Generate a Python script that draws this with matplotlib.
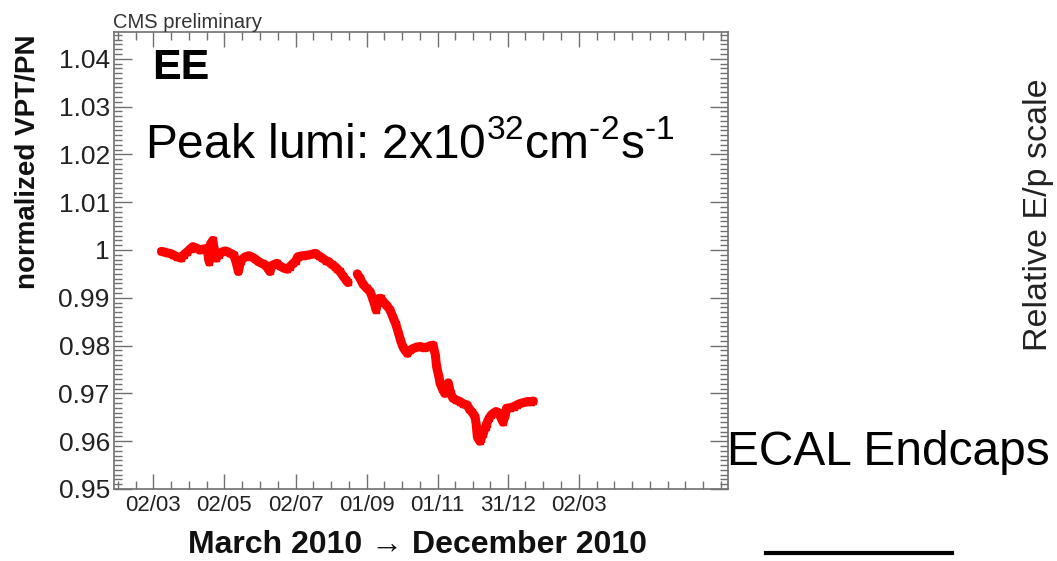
import matplotlib
matplotlib.use('Agg')
import matplotlib.pyplot as plt
from matplotlib.lines import Line2D
import matplotlib.dates as mdates
import numpy as np
import pandas as pd

plt.rcParams['font.family'] = ['Liberation Sans', 'DejaVu Sans']
plt.rcParams['mathtext.fontset'] = 'custom'
plt.rcParams['mathtext.rm'] = 'Liberation Sans'

# days since 02/03/2010 and the normalized VPT/PN ratio
start = pd.Timestamp('2010-03-02')
days = [7, 9, 12, 14, 17, 20, 22, 24, 26, 29, 32, 34, 37, 40, 43, 46, 48, 49, 51, 52,
        54, 56, 59, 62, 64, 66, 69, 71, 73, 75, 79, 82, 84, 87, 90, 93, 96, 98, 100, 102,
        106, 109, 112, 115, 117, 120, 122, 124, 128, 132, 136, 139, 142, 145, 148, 150,
        153, 156, 158, 160, 163, 165, 167,
        175, 177, 180, 183, 186, 188, 190, 191, 193, 195, 198, 200, 203, 206, 208, 210,
        212, 214, 216, 218, 220, 223, 226, 229, 232, 235, 238, 240, 242, 243, 245, 246,
        248, 250, 252, 253, 255, 257, 260, 263, 266, 269, 271, 273, 275, 276, 277, 278,
        280, 281, 283, 285, 286, 288, 290, 292, 294, 296, 298, 300, 302, 303, 306, 309,
        312, 315, 318, 321, 324, 326]
ratio = [0.9997, 0.9996, 0.9994, 0.9993, 0.9990, 0.9986, 0.9985, 0.9983, 0.9990, 0.9996,
         1.0003, 1.0007, 1.0004, 1.0000, 1.0002, 1.0003, 0.9975, 1.0012, 1.0020, 1.0005,
         0.9983, 0.9990, 0.9996, 0.9998, 0.9996, 0.9993, 0.9990, 0.9975, 0.9955, 0.9978,
         0.9986, 0.9988, 0.9986, 0.9982, 0.9976, 0.9972, 0.9969, 0.9962, 0.9955, 0.9968,
         0.9972, 0.9966, 0.9962, 0.9960, 0.9965, 0.9972, 0.9976, 0.9986, 0.9988, 0.9989,
         0.9991, 0.9993, 0.9988, 0.9983, 0.9978, 0.9976, 0.9970, 0.9965, 0.9960, 0.9955,
         0.9945, 0.9938, 0.9932,
         0.9950, 0.9942, 0.9928, 0.9920, 0.9913, 0.9900, 0.9885, 0.9875, 0.9898, 0.9899,
         0.9890, 0.9885, 0.9875, 0.9857, 0.9845, 0.9829, 0.9812, 0.9798, 0.9790, 0.9784,
         0.9790, 0.9794, 0.9797, 0.9798, 0.9796, 0.9797, 0.9800, 0.9801, 0.9780, 0.9756,
         0.9735, 0.9721, 0.9710, 0.9700, 0.9715, 0.9722, 0.9700, 0.9690, 0.9686, 0.9683,
         0.9678, 0.9676, 0.9668, 0.9662, 0.9655, 0.9651, 0.9635, 0.9609, 0.9600, 0.9605,
         0.9616, 0.9630, 0.9637, 0.9648, 0.9655, 0.9659, 0.9662, 0.9660, 0.9650, 0.9640,
         0.9655, 0.9669, 0.9670, 0.9672, 0.9676, 0.9679, 0.9681, 0.9683, 0.9683, 0.9684]

tick_dates = ['2010-03-02', '2010-05-02', '2010-07-02', '2010-09-01',
              '2010-11-01', '2010-12-31', '2011-03-02']
tick_labels = ['02/03', '02/05', '02/07', '01/09', '01/11', '31/12', '02/03']

W, H = 1057, 561
fig = plt.figure(figsize=(W / 100, H / 100), dpi=100)
ax = fig.add_axes([114 / W, 1 - 489 / H, (728 - 114) / W, (489 - 32) / H])

x = mdates.date2num(start + pd.to_timedelta(days, unit='D'))
y = np.array(ratio)
# break the line where there is no data
cut = np.where(np.diff(days) > 5)[0] + 1
for xs, ys in zip(np.split(x, cut), np.split(y, cut)):
    ax.plot(xs, ys, color='#ff0000', lw=6.5, solid_capstyle='round',
            solid_joinstyle='round', marker='s', ms=5, mec='#ff0000')

x0 = mdates.date2num(start)
ax.set_xlim(x0 - 33.7, x0 + 493)
ax.set_ylim(0.95, 1.0456)

major = mdates.date2num(pd.to_datetime(tick_dates))
minor = []
for a, b in zip(major[:-1], major[1:]):
    minor += list(np.linspace(a, b, 5)[1:-1])
step = (major[1] - major[0]) / 4
minor += [major[0] - step, major[0] - 2 * step] + [major[-1] + k * step for k in range(1, 9)]
ax.set_xticks(major)
ax.set_xticklabels(tick_labels)
ax.set_xticks(minor, minor=True)

yt = np.round(np.arange(0.95, 1.041, 0.01), 2)
ax.set_yticks(yt)
ax.set_yticklabels(['0.95', '0.96', '0.97', '0.98', '0.99', '1', '1.01', '1.02', '1.03', '1.04'])
ax.set_yticks(np.arange(0.95, 1.0455, 0.001), minor=True)

for s in ax.spines.values():
    s.set_color('#707070')
    s.set_linewidth(1.2)
ax.tick_params(axis='both', which='both', direction='in', top=True, right=True,
               color='#707070', width=1.0, labelcolor='#222222')
ax.tick_params(axis='y', which='major', length=13, labelsize=19, pad=3)
ax.tick_params(axis='y', which='minor', length=6)
ax.tick_params(axis='x', which='major', length=11, labelsize=16, pad=4)
ax.tick_params(axis='x', which='minor', length=6)

fig.text(113 / W, 1 - 28 / H, 'CMS preliminary', fontsize=14.5, color='#333333', va='baseline')
fig.text(28 / W, 1 - 162 / H, 'normalized VPT/PN', fontsize=20, fontweight='bold',
         rotation=90, ha='center', va='center', color='#111111')
fig.text(418 / W, 1 - 553 / H, 'March 2010 \u2192 December 2010', fontsize=23,
         fontweight='bold', ha='center', va='baseline', color='#111111')
fig.text(152 / W, 1 - 79 / H, 'EE', fontsize=31, fontweight='bold', va='baseline')
fig.text(145 / W, 1 - 158 / H, r'Peak lumi: 2x10$^{32}$cm$^{\text{-}2}$s$^{\text{-}1}$',
         fontsize=34.5, va='baseline')
fig.text(727 / W, 1 - 465 / H, 'ECAL Endcaps', fontsize=34.5, va='baseline')
fig.text(1038 / W, 1 - 215 / H, 'Relative E/p scale', fontsize=24.5, rotation=90,
         ha='center', va='center', color='#222222')
fig.add_artist(Line2D([766 / W, 952 / W], [1 - 553 / H, 1 - 553 / H], color='black', lw=3))

fig.savefig('out.png', dpi=100)
